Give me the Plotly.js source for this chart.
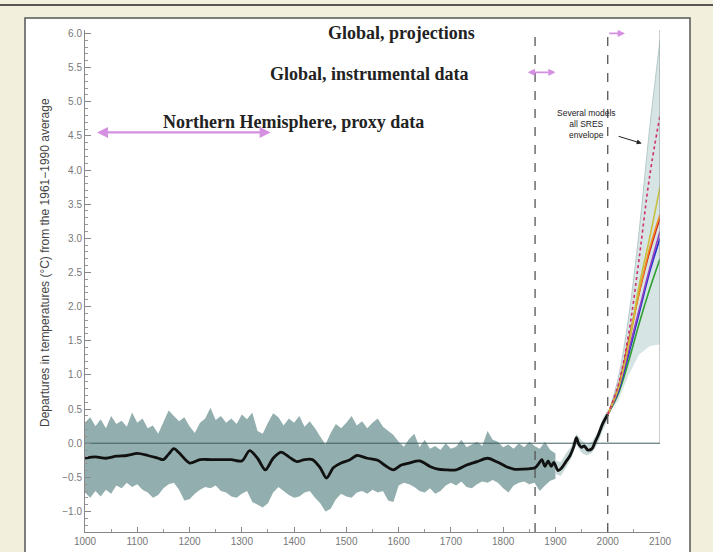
<!DOCTYPE html>
<html>
<head>
<meta charset="utf-8">
<script src="https://cdn.plot.ly/plotly-3.0.1.min.js"></script>
<style>
html,body{margin:0;padding:0;background:#f2f0dc;}
#chart{width:713px;height:552px;}
</style>
</head>
<body>
<div id="chart"></div>
<script>
// ---- Proxy band (Northern Hemisphere annual variability), 10-year steps ----
const bandYears = [1000,1010,1020,1030,1040,1050,1060,1070,1080,1090,1100,1110,1120,1130,1140,1150,1160,1170,1180,1190,
  1200,1210,1220,1230,1240,1250,1260,1270,1280,1290,1300,1310,1320,1330,1340,1350,1360,1370,1380,1390,
  1400,1410,1420,1430,1440,1450,1460,1470,1480,1490,1500,1510,1520,1530,1540,1550,1560,1570,1580,1590,
  1600,1610,1620,1630,1640,1650,1660,1670,1680,1690,1700,1710,1720,1730,1740,1750,1760,1770,1780,1790,
  1800,1810,1820,1830,1840,1850,1860,1870,1880,1890,1900];
const bandUpper = [0.30,0.38,0.25,0.35,0.22,0.40,0.28,0.33,0.24,0.45,0.30,0.36,0.22,0.26,0.14,0.30,0.48,0.40,0.32,0.38,
  0.25,0.15,0.30,0.36,0.52,0.34,0.40,0.30,0.36,0.28,0.42,0.35,0.45,0.18,0.14,0.30,0.44,0.38,0.26,0.36,
  0.30,0.40,0.24,0.32,0.22,0.10,-0.02,0.15,0.28,0.22,0.30,0.40,0.26,0.32,0.22,0.30,0.36,0.24,0.18,0.12,
  0.02,-0.05,0.06,0.14,-0.06,0.05,-0.08,-0.04,-0.10,0.00,-0.08,-0.05,0.05,-0.06,-0.02,0.02,-0.04,0.18,0.05,0.02,
  -0.06,-0.02,-0.08,0.00,-0.06,0.02,-0.04,-0.08,0.02,-0.10,-0.15];
const bandLower = [-0.72,-0.80,-0.70,-0.78,-0.68,-0.74,-0.62,-0.66,-0.58,-0.64,-0.60,-0.68,-0.72,-0.80,-0.76,-0.66,-0.60,-0.58,-0.68,-0.84,
  -0.82,-0.74,-0.68,-0.64,-0.66,-0.62,-0.70,-0.72,-0.78,-0.80,-0.74,-0.70,-0.86,-0.90,-0.94,-0.88,-0.72,-0.64,-0.70,-0.76,
  -0.80,-0.78,-0.72,-0.70,-0.80,-0.88,-1.00,-0.96,-0.82,-0.74,-0.78,-0.80,-0.72,-0.70,-0.74,-0.68,-0.72,-0.70,-0.84,-0.86,
  -0.62,-0.58,-0.60,-0.64,-0.70,-0.72,-0.66,-0.74,-0.70,-0.62,-0.58,-0.62,-0.56,-0.64,-0.66,-0.60,-0.56,-0.58,-0.54,-0.58,
  -0.66,-0.72,-0.62,-0.58,-0.56,-0.60,-0.58,-0.70,-0.62,-0.55,-0.52];

// ---- Instrumental uncertainty band ----
const instYears = [1900,1910,1920,1930,1940,1950,1960,1970,1980,1990,2000];
const instUpper = [-0.25,-0.28,-0.15,-0.05,0.14,0.04,-0.02,0.02,0.15,0.35,0.50];
const instLower = [-0.45,-0.48,-0.36,-0.22,-0.02,-0.14,-0.18,-0.14,-0.02,0.18,0.34];

// ---- Smoothed temperature record (proxy + instrumental) ----
const lineYears = [1000,1020,1040,1060,1080,1100,1120,1140,1150,1160,1170,1180,1200,1220,1240,1260,1280,1300,1315,1330,
  1345,1360,1375,1390,1405,1420,1435,1450,1462,1475,1490,1505,1520,1540,1560,1575,1590,1605,1620,1640,
  1660,1675,1690,1710,1730,1750,1770,1790,1805,1820,1840,1855,
  1861,1868,1874,1880,1886,1892,1897,1905,1912,1920,1928,1935,1940,1945,1950,1955,1962,1970,1976,1982,1990,2000];
const lineValues = [-0.22,-0.20,-0.22,-0.19,-0.18,-0.15,-0.18,-0.22,-0.24,-0.16,-0.08,-0.14,-0.29,-0.24,-0.24,-0.24,-0.24,-0.26,-0.11,-0.22,
  -0.39,-0.22,-0.13,-0.20,-0.27,-0.24,-0.24,-0.36,-0.51,-0.36,-0.29,-0.25,-0.18,-0.22,-0.25,-0.33,-0.39,-0.32,-0.29,-0.26,
  -0.34,-0.38,-0.39,-0.39,-0.32,-0.27,-0.22,-0.28,-0.34,-0.38,-0.38,-0.37,
  -0.36,-0.30,-0.24,-0.34,-0.26,-0.34,-0.28,-0.40,-0.36,-0.27,-0.18,-0.05,0.08,-0.02,-0.06,-0.04,-0.10,-0.08,0.02,0.12,0.28,0.42];

// ---- Projections 2000-2100 ----
const projYears = [2000,2020,2040,2060,2080,2100];
const envUpper = [0.42,0.95,1.85,3.10,4.60,5.90];
const envLower = [0.42,0.62,1.00,1.30,1.42,1.45];
const projNames = ['A1FI','A2','A1B','A1T','B2','IS92a','B1'];
const projColors = ['#d0306a','#c8c040','#f09020','#d02020','#9040c0','#2030d0','#30a030'];
const projDash = ['dot','solid','solid','solid','solid','solid','solid'];
const projValues = [
  [0.42,0.85,1.60,2.70,3.90,4.80],
  [0.42,0.80,1.45,2.30,3.00,3.75],
  [0.42,0.80,1.45,2.20,2.85,3.35],
  [0.42,0.82,1.50,2.20,2.80,3.30],
  [0.42,0.78,1.35,1.95,2.55,3.10],
  [0.42,0.75,1.30,1.90,2.50,3.00],
  [0.42,0.72,1.20,1.75,2.25,2.70]
];

// ---- Axis ticks ----
const xTicks = [1000,1100,1200,1300,1400,1500,1600,1700,1800,1900,2000,2100];
const yTicks = [-1.0,-0.5,0.0,0.5,1.0,1.5,2.0,2.5,3.0,3.5,4.0,4.5,5.0,5.5,6.0];

const traces = [];
traces.push({x: bandYears, y: bandLower, mode:'lines', line:{width:0, color:'#93aeae'}, hoverinfo:'skip', showlegend:false});
traces.push({x: bandYears, y: bandUpper, mode:'lines', line:{width:0, color:'#93aeae'}, fill:'tonexty', fillcolor:'#93aeae', hoverinfo:'skip', showlegend:false});
traces.push({x: instYears, y: instLower, mode:'lines', line:{width:0}, hoverinfo:'skip', showlegend:false});
traces.push({x: instYears, y: instUpper, mode:'lines', line:{width:0}, fill:'tonexty', fillcolor:'#c6d8d8', hoverinfo:'skip', showlegend:false});
traces.push({x: projYears, y: envLower, mode:'lines', line:{width:0}, hoverinfo:'skip', showlegend:false});
traces.push({x: projYears, y: envUpper, mode:'lines', line:{width:0.8, color:'#a9c0c0', shape:'spline'}, fill:'tonexty', fillcolor:'#d6e4e4', hoverinfo:'skip', showlegend:false});
// zero line
traces.push({x:[xTicks[0], xTicks[xTicks.length-1]], y:[0,0], mode:'lines', line:{color:'#3f5c5c', width:1}, hoverinfo:'skip', showlegend:false});
for (let i = projValues.length-1; i >= 0; i--) {
  traces.push({x: projYears, y: projValues[i], mode:'lines', name: projNames[i],
    line:{color: projColors[i], width: 1.6, dash: projDash[i], shape:'spline'}, showlegend:false});
}
traces.push({x: lineYears, y: lineValues, mode:'lines', line:{color:'#111', width:2.8, shape:'spline', smoothing:0.8}, showlegend:false});

// pixel geometry helpers (plot area 85..660 x, 30..532 y)
const L = 85, R = 53, T = 30, B = 20, W = 713 - L - R, H = 552 - T - B;
const px = v => (v - L) / W;
const py = v => (552 - B - v) / H;

const layout = {
  width: 713, height: 552,
  margin: {l: L, r: R, t: T, b: B, pad: 0},
  paper_bgcolor: '#f2f0dc',
  plot_bgcolor: 'rgba(0,0,0,0)',
  showlegend: false,
  xaxis: {
    range: [1000, 2100], tickvals: xTicks, ticks: 'inside', ticklen: 5, tickcolor: '#888',
    showline: true, linecolor: '#888', linewidth: 1, showgrid: false, zeroline: false,
    tickfont: {family: 'Liberation Sans, Arial, sans-serif', size: 10, color: '#777'},
    minor: {dtick: 50, tick0: 1000, ticks: 'inside', ticklen: 3, tickcolor: '#999'}
  },
  yaxis: {
    range: [-1.3, 6.05], tickvals: yTicks, tickformat: '.1f', ticks: 'inside', ticklen: 6, tickcolor: '#888',
    showline: true, linecolor: '#888', linewidth: 1, showgrid: false, zeroline: false,
    tickfont: {family: 'Liberation Sans, Arial, sans-serif', size: 10, color: '#777'},
    minor: {dtick: 0.1, tick0: 0, ticks: 'inside', ticklen: 3, tickcolor: '#999'}
  },
  shapes: [
    {type:'rect', xref:'paper', yref:'paper', x0: px(25), x1: px(690), y0: py(570), y1: py(18),
     fillcolor:'#ffffff', line:{color:'#555', width:1.5}, layer:'below'},
    {type:'line', xref:'paper', yref:'paper', x0: px(0), x1: px(713), y0: py(5), y1: py(5),
     line:{color:'#222', width:1.5}, layer:'below'},
    {type:'line', xref:'x', yref:'y', x0: 1861, x1: 1861, y0: -1.3, y1: 6.05, line:{color:'#555', width:1.3, dash:'dash'}},
    {type:'line', xref:'x', yref:'y', x0: 2000, x1: 2000, y0: -1.3, y1: 6.05, line:{color:'#555', width:1.3, dash:'dash'}},
    {type:'line', xref:'x', yref:'y', x0: 2100, x1: 2100, y0: 0, y1: 6.05, line:{color:'#999', width:1}}
  ],
  annotations: [
    {text:'<b>Global, projections</b>', x:1606, y:6.0, xref:'x', yref:'y', showarrow:false,
     font:{family:'Liberation Serif, Times New Roman, serif', size:18, color:'#222'}},
    {text:'<b>Global, instrumental data</b>', x:1545, y:5.4, xref:'x', yref:'y', showarrow:false,
     font:{family:'Liberation Serif, Times New Roman, serif', size:18, color:'#222'}},
    {text:'<b>Northern Hemisphere, proxy data</b>', x:1398, y:4.71, xref:'x', yref:'y', showarrow:false,
     font:{family:'Liberation Serif, Times New Roman, serif', size:18, color:'#222'}},
    {text:'', x:1023, y:4.55, ax:1358, ay:4.55, xref:'x', yref:'y', axref:'x', ayref:'y', showarrow:true,
     arrowside:'end+start', arrowhead:2, arrowsize:1, arrowwidth:2.2, arrowcolor:'#d690e2'},
    {text:'', x:1847, y:5.43, ax:1903, ay:5.43, xref:'x', yref:'y', axref:'x', ayref:'y', showarrow:true,
     arrowside:'end+start', arrowhead:2, arrowsize:0.8, arrowwidth:1.8, arrowcolor:'#d690e2'},
    {text:'', x:2033, y:6.0, ax:2000, ay:6.0, xref:'x', yref:'y', axref:'x', ayref:'y', showarrow:true,
     arrowhead:2, arrowsize:0.8, arrowwidth:1.8, arrowcolor:'#d690e2'},
    {text:'Several models<br>all SRES<br>envelope', x:1960, y:4.68, xref:'x', yref:'y', showarrow:false,
     font:{family:'Liberation Sans, Arial, sans-serif', size:8.5, color:'#222'}},
    {text:'', x:2065, y:4.39, ax:2018, ay:4.50, xref:'x', yref:'y', axref:'x', ayref:'y', showarrow:true,
     arrowhead:2, arrowsize:1, arrowwidth:1, arrowcolor:'#222'},
    {text:'Departures in temperatures (°C) from the 1961−1990 average', textangle:-90,
     x: px(36), y: py(263), xref:'paper', yref:'paper', showarrow:false,
     font:{family:'Liberation Sans, Arial, sans-serif', size:12, color:'#444'}}
  ]
};

Plotly.newPlot('chart', traces, layout, {displayModeBar:false, staticPlot:true});
</script>
</body>
</html>
